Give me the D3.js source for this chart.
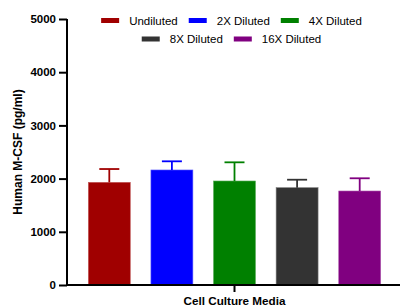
<!DOCTYPE html>
<html>
<head>
<meta charset="utf-8">
<script src="https://cdn.jsdelivr.net/npm/d3@7"></script>
<style>
	body { margin: 0; background: #fff; }
	svg { display: block; font-family: "Liberation Sans", Arial, sans-serif; }
</style>
</head>
<body>
<svg id="chart" width="401" height="307"></svg>
<script>
// data
const groups = ["Undiluted", "2X Diluted", "4X Diluted", "8X Diluted", "16X Diluted"];
const means = [1930, 2162, 1955, 1829, 1767];
const errors = [250, 163, 351, 150, 239];
const colors = ["#a00000", "#0000ff", "#008000", "#333333", "#800080"];
const yTicks = [0, 1000, 2000, 3000, 4000, 5000];
const xLabel = "Cell Culture Media";
const yLabel = "Human M-CSF (pg/ml)";

const svg = d3.select("#chart");
const axisX = 67, axisBottom = 285, axisTop = 19, axisRight = 400;

const y = d3.scaleLinear().domain([0, 5000]).range([axisBottom, axisTop]);
const x = d3.scaleBand().domain(groups).range([78, 391]).paddingInner(0.33).paddingOuter(0.165);

// bars
svg.append("g")
	.selectAll("rect")
	.data(groups)
	.enter().append("rect")
	.attr("x", d => x(d))
	.attr("y", (d, i) => y(means[i]))
	.attr("width", x.bandwidth())
	.attr("height", (d, i) => y(0) - y(means[i]))
	.attr("fill", (d, i) => colors[i])
	.attr("stroke", (d, i) => d3.interpolateRgb(colors[i], "#fff")(0.35))
	.attr("stroke-width", 0.6);

// error bars (upper only)
const err = svg.append("g").selectAll("g").data(groups).enter().append("g")
	.attr("stroke", (d, i) => colors[i])
	.attr("stroke-width", 1.8);
err.append("line")
	.attr("x1", d => x(d) + x.bandwidth() / 2)
	.attr("x2", d => x(d) + x.bandwidth() / 2)
	.attr("y1", (d, i) => y(means[i]))
	.attr("y2", (d, i) => y(means[i] + errors[i]));
err.append("line")
	.attr("x1", d => x(d) + x.bandwidth() / 2 - 10)
	.attr("x2", d => x(d) + x.bandwidth() / 2 + 10)
	.attr("y1", (d, i) => y(means[i] + errors[i]))
	.attr("y2", (d, i) => y(means[i] + errors[i]));

// y axis
const yAxis = svg.append("g")
	.attr("transform", `translate(${axisX},0)`)
	.call(d3.axisLeft(y).tickValues(yTicks).tickSize(8).tickPadding(3).tickFormat(d3.format("d")));
yAxis.select(".domain").attr("d", `M0,${axisTop}V${axisBottom}`);
yAxis.selectAll("line, path").attr("stroke", "#000").attr("stroke-width", 2);
yAxis.selectAll("text")
	.attr("font-size", "11.5px")
	.attr("font-weight", "bold")
	.attr("font-family", "Liberation Sans, Arial, sans-serif")
	.attr("fill", "#000");

// x axis
svg.append("line")
	.attr("x1", axisX - 1).attr("x2", axisRight)
	.attr("y1", axisBottom).attr("y2", axisBottom)
	.attr("stroke", "#000").attr("stroke-width", 2);
svg.append("line")
	.attr("x1", x(groups[2]) + x.bandwidth() / 2).attr("x2", x(groups[2]) + x.bandwidth() / 2)
	.attr("y1", axisBottom).attr("y2", axisBottom + 7)
	.attr("stroke", "#000").attr("stroke-width", 2);

svg.append("text")
	.attr("x", x(groups[2]) + x.bandwidth() / 2)
	.attr("y", 305)
	.attr("text-anchor", "middle")
	.attr("font-size", "11.7px")
	.attr("font-weight", "bold")
	.text(xLabel);

svg.append("text")
	.attr("transform", "translate(22,152) rotate(-90)")
	.attr("text-anchor", "middle")
	.attr("font-size", "12px")
	.attr("font-weight", "bold")
	.text(yLabel);

// legend, two centred rows
const rows = [[0, 1, 2], [3, 4]];
const rowY = [20.5, 39];
const legend = svg.append("g").attr("font-size", "11.5px");
rows.forEach((row, r) => {
	const items = row.map(i => {
		const g = legend.append("g");
		g.append("rect").attr("width", 18).attr("height", 5).attr("y", -2.5).attr("fill", colors[i]);
		const t = g.append("text").attr("x", 28).attr("dy", "0.35em").text(groups[i]);
		return { g: g, w: 28 + t.node().getComputedTextLength() };
	});
	const gap = 11;
	const total = d3.sum(items, d => d.w) + gap * (items.length - 1);
	let cx = 231.5 - total / 2;
	items.forEach(it => {
		it.g.attr("transform", `translate(${cx},${rowY[r]})`);
		cx += it.w + gap;
	});
});
</script>
</body>
</html>
